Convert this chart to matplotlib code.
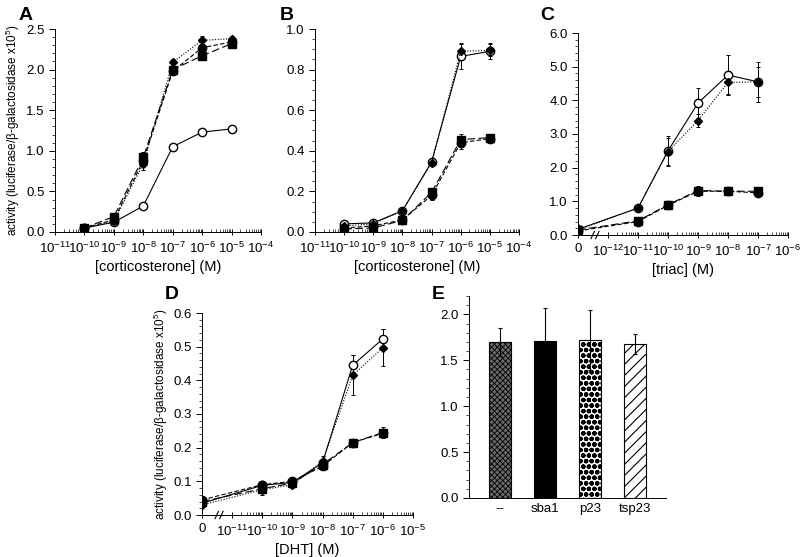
import matplotlib
matplotlib.use("Agg")
import matplotlib.pyplot as plt
import numpy as np
from matplotlib.ticker import FixedLocator, AutoMinorLocator, FormatStrFormatter, NullFormatter

plt.rcParams['font.family'] = ['Liberation Sans', 'DejaVu Sans']
plt.rcParams['mathtext.default'] = 'regular'
plt.rcParams['hatch.linewidth'] = 0.6

# dose-response data: open circle / filled circle / diamond / square
conc_a = [1e-10, 1e-9, 1e-8, 1e-7, 1e-6, 1e-5]
a_open = [0.05, 0.12, 0.32, 1.05, 1.23, 1.27]
a_fcirc = [0.05, 0.15, 0.88, 1.98, 2.27, 2.34]
a_diam = [0.05, 0.13, 0.84, 2.09, 2.36, 2.38]
a_sq = [0.05, 0.19, 0.92, 2.00, 2.17, 2.32]
a_open_err = [0.01, 0.02, 0.04, 0.03, 0.02, 0.05]
a_fcirc_err = [0.01, 0.03, 0.08, 0.04, 0.04, 0.03]
a_diam_err = [0.01, 0.03, 0.08, 0.04, 0.05, 0.03]
a_sq_err = [0.01, 0.03, 0.06, 0.05, 0.02, 0.03]

conc_b = [1e-10, 1e-9, 1e-8, 1e-7, 1e-6, 1e-5]
b_open = [0.04, 0.045, 0.105, 0.345, 0.865, 0.89]
b_fcirc = [0.02, 0.03, 0.06, 0.18, 0.44, 0.46]
b_diam = [0.03, 0.04, 0.105, 0.34, 0.89, 0.895]
b_sq = [0.015, 0.02, 0.057, 0.195, 0.455, 0.465]
b_open_err = [0.005, 0.005, 0.01, 0.015, 0.06, 0.04]
b_fcirc_err = [0.005, 0.005, 0.005, 0.02, 0.03, 0.02]
b_diam_err = [0.005, 0.005, 0.01, 0.015, 0.04, 0.03]
b_sq_err = [0.005, 0.005, 0.005, 0.02, 0.03, 0.02]

conc_c = [0, 1e-11, 1e-10, 1e-9, 1e-8, 1e-7]
c_open = [0.17, 0.80, 2.50, 3.92, 4.75, 4.55]
c_fcirc = [0.12, 0.40, 0.88, 1.30, 1.30, 1.25]
c_diam = [0.15, 0.80, 2.48, 3.40, 4.53, 4.55]
c_sq = [0.15, 0.42, 0.90, 1.32, 1.30, 1.30]
c_open_err = [0.05, 0.08, 0.45, 0.45, 0.60, 0.60]
c_fcirc_err = [0.05, 0.05, 0.05, 0.10, 0.05, 0.05]
c_diam_err = [0.05, 0.08, 0.40, 0.20, 0.35, 0.45]
c_sq_err = [0.05, 0.05, 0.05, 0.15, 0.05, 0.10]

conc_d = [0, 1e-10, 1e-9, 1e-8, 1e-7, 1e-6]
d_open = [0.035, 0.088, 0.097, 0.155, 0.445, 0.523]
d_fcirc = [0.045, 0.090, 0.100, 0.145, 0.215, 0.243]
d_diam = [0.030, 0.075, 0.090, 0.160, 0.415, 0.497]
d_sq = [0.040, 0.078, 0.095, 0.150, 0.215, 0.245]
d_open_err = [0.005, 0.005, 0.005, 0.01, 0.03, 0.03]
d_fcirc_err = [0.01, 0.01, 0.005, 0.01, 0.005, 0.005]
d_diam_err = [0.01, 0.015, 0.01, 0.015, 0.06, 0.055]
d_sq_err = [0.01, 0.01, 0.005, 0.005, 0.005, 0.015]

# panel E bars
e_labels = ['--', 'sba1', 'p23', 'tsp23']
e_values = [1.70, 1.71, 1.72, 1.68]
e_err = [0.15, 0.36, 0.33, 0.11]

ylab = 'activity (luciferase/β-galactosidase x10$^5$)'


def draw_series(ax, x, ys, errs):
    styles = [
        dict(marker='o', mfc='white', ls='-', ms=6),
        dict(marker='o', mfc='black', ls=(0, (4, 2)), ms=6),
        dict(marker='D', mfc='black', ls=(0, (1, 1.5)), ms=4),
        dict(marker='s', mfc='black', ls=(0, (7, 3)), ms=5.5),
    ]
    for y, e, st in zip(ys, errs, styles):
        ax.errorbar(x, y, yerr=e, color='black', mec='black', lw=0.8,
                    elinewidth=0.7, capsize=1.2, capthick=0.7, **st)


def style_axes(ax, ymax, ystep, yminor):
    ax.spines['top'].set_visible(False)
    ax.spines['right'].set_visible(False)
    ax.set_ylim(0, ymax)
    ax.set_yticks(np.arange(0, ymax + 1e-9, ystep))
    ax.yaxis.set_minor_locator(AutoMinorLocator(yminor))
    ax.yaxis.set_major_formatter(FormatStrFormatter('%.1f'))
    ax.tick_params(axis='y', which='major', direction='out', length=4, width=0.7, labelsize=9.5)
    ax.tick_params(axis='y', which='minor', direction='out', length=2, width=0.5)
    ax.tick_params(axis='x', which='major', direction='inout', length=5, width=0.7, labelsize=9.5)
    ax.tick_params(axis='x', which='minor', direction='in', length=2, width=0.5)
    for s in ax.spines.values():
        s.set_linewidth(0.7)


def log_xaxis(ax, lo, hi, zero_at=None):
    ax.set_xscale('log')
    ax.set_xlim(10.0 ** lo, 10.0 ** hi)
    majors = [10.0 ** k for k in range(lo, hi + 1)]
    labels = ['10$^{%d}$' % k for k in range(lo, hi + 1)]
    first = lo
    if zero_at is not None:
        labels[0] = '0'
        first = lo + 1
    ax.xaxis.set_major_locator(FixedLocator(majors))
    ax.set_xticklabels(labels)
    minors = [m * 10.0 ** k for k in range(first, hi) for m in range(2, 10)]
    ax.xaxis.set_minor_locator(FixedLocator(minors))
    ax.xaxis.set_minor_formatter(NullFormatter())


def axis_break(ax, xfrac):
    for dx in (0.0, 0.022):
        ax.plot([xfrac + dx - 0.008, xfrac + dx + 0.008], [-0.018, 0.018],
                transform=ax.transAxes, color='black', lw=0.8, clip_on=False)


fig = plt.figure(figsize=(8, 5.57), dpi=100)

# A
axA = fig.add_axes([55 / 800, 1 - 232 / 557, 206 / 800, 203 / 557])
draw_series(axA, conc_a, [a_open, a_fcirc, a_diam, a_sq],
            [a_open_err, a_fcirc_err, a_diam_err, a_sq_err])
style_axes(axA, 2.5, 0.5, 5)
log_xaxis(axA, -11, -4)
axA.set_xlabel('[corticosterone] (M)', fontsize=10.5, labelpad=3)
axA.set_ylabel(ylab, fontsize=8.5, labelpad=3)

# B
axB = fig.add_axes([315 / 800, 1 - 232 / 557, 204 / 800, 203 / 557])
draw_series(axB, conc_b, [b_open, b_fcirc, b_diam, b_sq],
            [b_open_err, b_fcirc_err, b_diam_err, b_sq_err])
style_axes(axB, 1.0, 0.2, 4)
log_xaxis(axB, -11, -4)
axB.set_xlabel('[corticosterone] (M)', fontsize=10.5, labelpad=3)

# C, zero plotted at the left end of the axis
axC = fig.add_axes([578 / 800, 1 - 235 / 557, 210 / 800, 202 / 557])
xc = [c if c > 0 else 1e-13 for c in conc_c]
draw_series(axC, xc, [c_open, c_fcirc, c_diam, c_sq],
            [c_open_err, c_fcirc_err, c_diam_err, c_sq_err])
style_axes(axC, 6.0, 1.0, 5)
log_xaxis(axC, -13, -6, zero_at=True)
axis_break(axC, 0.07)
axC.set_xlabel('[triac] (M)', fontsize=10.5, labelpad=3)

# D
axD = fig.add_axes([202 / 800, 1 - 515 / 557, 211 / 800, 202 / 557])
xd = [c if c > 0 else 1e-12 for c in conc_d]
draw_series(axD, xd, [d_open, d_fcirc, d_diam, d_sq],
            [d_open_err, d_fcirc_err, d_diam_err, d_sq_err])
style_axes(axD, 0.6, 0.1, 5)
log_xaxis(axD, -12, -5, zero_at=True)
axis_break(axD, 0.07)
axD.set_xlabel('[DHT] (M)', fontsize=10.5, labelpad=3)
axD.set_ylabel(ylab, fontsize=8.5, labelpad=2)

# E
axE = fig.add_axes([469 / 800, 1 - 498 / 557, 197 / 800, 202 / 557])
pos = np.arange(len(e_labels))
hatches = ['xxxxxx', None, 'ooo', '///']
hatch_lw = [0.6, 0.6, 1.6, 0.8]
faces = ['#6a6a6a', 'black', 'white', 'white']
for p, v, er, h, hl, fc in zip(pos, e_values, e_err, hatches, hatch_lw, faces):
    with plt.rc_context({'hatch.linewidth': hl}):
        axE.bar(p, v, width=0.5, color=fc, edgecolor='black', linewidth=0.8, hatch=h)
    axE.errorbar(p, v, yerr=er, color='black', elinewidth=0.8, capsize=1.5,
                 capthick=0.8, fmt='none')
axE.set_xlim(-0.69, 3.69)
style_axes(axE, 2.2, 0.5, 5)
axE.set_yticks(np.arange(0, 2.01, 0.5))
axE.set_xticks(pos)
axE.set_xticklabels(e_labels)
axE.tick_params(axis='x', which='major', length=0, labelsize=9.5)
axE.spines['bottom'].set_bounds(-0.69, 3.69)

for lab, x, y in [('A', 19, 20), ('B', 280, 20), ('C', 540, 20),
                  ('D', 165, 299), ('E', 432, 299)]:
    fig.text(x / 800, 1 - y / 557, lab, fontsize=14, fontweight='bold')

fig.savefig('out.png', dpi=100)
